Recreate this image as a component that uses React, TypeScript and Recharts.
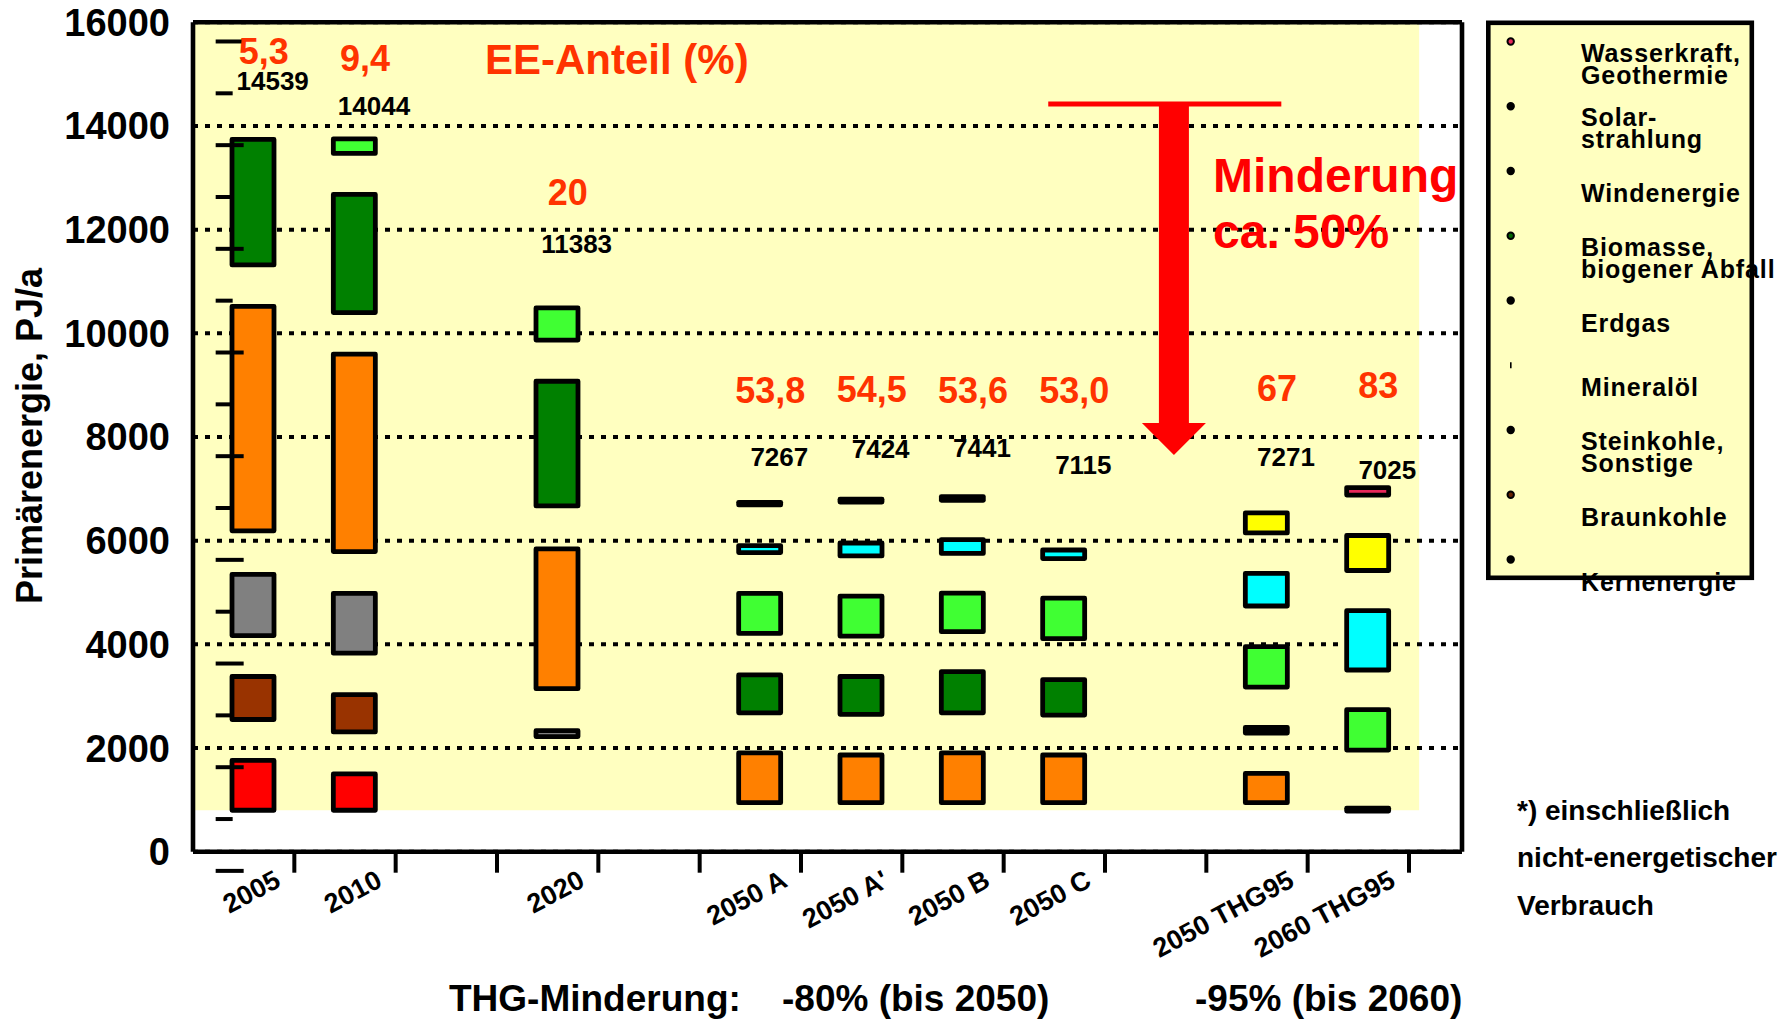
import React from 'react';
import {
  ComposedChart,
  Bar,
  Cell,
  XAxis,
  YAxis,
  CartesianGrid,
  ReferenceArea,
  ReferenceDot,
  ReferenceLine,
} from 'recharts';

type Range = [number, number] | null;

// Category slots of the x axis (empty strings are spacer slots)
const slotLabels = ['2005', '2010', '', '2020', '', '2050 A', "2050 A'", '2050 B', '2050 C', '', '2050 THG95', '2060 THG95'];

// Primary energy totals in PJ/a
const totals = [14539, 14044, null, 11383, null, 7267, 7424, 7441, 7115, null, 7271, 7025];

// Share of renewables (EE-Anteil, %) and the height where each value is written
const eeShares = ['5,3', '9,4', '', '20', '', '53,8', '54,5', '53,6', '53,0', '', '67', '83'];
const eeLabelLevels = [15450, 15320, null, 12730, null, 8910, 8930, 8910, 8910, null, 8950, 9000];

// Floating boxes per energy carrier: [lower, upper] in PJ/a
const kernenergie: Range[] = [[800, 1760], [800, 1500], null, null, null, null, null, null, null, null, null, null];
const braunkohle: Range[] = [[2550, 3380], [2310, 3030], null, null, null, null, null, null, null, null, null, null];
const steinkohle: Range[] = [[4170, 5350], [3830, 4985], null, [2220, 2335], null, null, null, null, null, null, null, null];
const mineraloel: Range[] = [[6190, 10520], [5790, 9600], null, [3145, 5840], null, [945, 1905], [945, 1865], [945, 1905], [945, 1865], null, [945, 1510], null];
const erdgas: Range[] = [[11320, 13740], [10400, 12680], null, [6670, 9075], null, [2680, 3410], [2650, 3380], [2680, 3475], [2635, 3320], null, null, null];
const biomasse: Range[] = [null, [13470, 13750], null, [9870, 10490], null, [4210, 4985], [4160, 4930], [4245, 4990], [4110, 4890], null, [3175, 3955], [1960, 2740]];
const windenergie: Range[] = [null, null, null, null, null, [5770, 5905], [5705, 5955], [5755, 6020], [5655, 5820], null, [4740, 5370], [3505, 4650]];
const solarstrahlung: Range[] = [null, null, null, null, null, null, null, null, null, null, [6150, 6535], [5425, 6100]];
const wasserkraft: Range[] = [null, null, null, null, null, null, null, null, null, null, null, [6880, 7025]];
const sonstigeDunkel: Range[] = [null, null, null, null, null, [6690, 6740], [6745, 6800], [6780, 6850], null, null, [2290, 2400], [785, 840]];

// Short marks beside the 2005 column (PJ/a)
const marks2005 = [-370, 630, 1630, 2630, 3630, 4630, 5630, 6630, 7630, 8630, 9630, 10630, 11630, 12630, 13630, 14630, 15630];

const yTicks = [0, 2000, 4000, 6000, 8000, 10000, 12000, 14000, 16000];
const slotTicks = [1, 2, 3, 4, 5, 6, 7, 8, 9, 10, 11, 12];

// Layout of the plot frame
const CHART_W = 1790;
const CHART_H = 1022;
const X_AXIS_H = 60;
const MARGIN = { top: 22.3, right: 328, bottom: 170.3 - X_AXIS_H, left: 93 };
const Y_AXIS_W = 100;
const PLOT_W = CHART_W - MARGIN.left - Y_AXIS_W - MARGIN.right;
const RIGHT_GAP = 53; // empty room between the last slot and the right frame
const SLOT_COUNT = slotLabels.length;
const SLOTS_MAX = (SLOT_COUNT * PLOT_W) / (PLOT_W - RIGHT_GAP);

// Highlighted background band and the reduction arrow (in axis units)
const highlightBand = { x1: 0, x2: 12.1, y1: 800, y2: 16000 };
const reductionArrow = { x: 9.68, from: 14424, to: 7654, barFrom: 8.44, barTo: 10.74 };

const carriers = [
  { key: 'wasser', color: '#E8285A', values: wasserkraft },
  { key: 'solar', color: '#FFFF00', values: solarstrahlung },
  { key: 'wind', color: '#00FFFF', values: windenergie },
  { key: 'bio', color: '#40FF33', values: biomasse },
  { key: 'gas', color: '#008000', values: erdgas },
  { key: 'oel', color: '#FF8000', values: mineraloel },
  { key: 'stein', color: '#808080', values: steinkohle },
  { key: 'braun', color: '#993300', values: braunkohle },
  { key: 'kern', color: '#FF0000', values: kernenergie },
  { key: 'dunkel', color: '#000000', values: sonstigeDunkel },
];

const legendEntries = [
  { lines: ['Wasserkraft,', 'Geothermie'], color: '#E8285A' },
  { lines: ['Solar-', 'strahlung'], color: '#000000' },
  { lines: ['Windenergie'], color: '#000000' },
  { lines: ['Biomasse,', 'biogener Abfall'], color: '#006600' },
  { lines: ['Erdgas'], color: '#000000' },
  { lines: ['Mineralöl'], color: null },
  { lines: ['Steinkohle,', 'Sonstige'], color: '#000000' },
  { lines: ['Braunkohle'], color: '#662200' },
  { lines: ['Kernenergie'], color: '#000000' },
];

const MAX_SEGMENTS = 6;
const FONT = "'Liberation Sans', Arial, Helvetica, sans-serif";
const EE_COLOR = '#FF3300';

// Build stacked rows: transparent gaps between the visible boxes
const rows = slotLabels.map((label, i) => {
  const segs = carriers
    .filter((c) => c.values[i])
    .map((c) => ({ color: c.color, lo: (c.values[i] as [number, number])[0], hi: (c.values[i] as [number, number])[1] }))
    .sort((a, b) => a.lo - b.lo);
  const row: Record<string, any> = { id: `s${i}`, pos: i, label, total: totals[i], colors: [] as string[] };
  let top = 0;
  segs.forEach((s, j) => {
    row[`g${j}`] = s.lo - top;
    row[`s${j}`] = s.hi - s.lo;
    row.colors[j] = s.color;
    top = s.hi;
  });
  return row;
});

const SlotTick = (props: any) => {
  const { x, y, payload } = props;
  const label = slotLabels[payload.value - 1];
  if (!label) return null;
  const ax = x - 12;
  return (
    <text x={ax} y={y} textAnchor="end" transform={`rotate(-28 ${ax} ${y})`} fontSize={27} fontWeight={700} fontFamily={FONT} fill="#000">
      {label}
    </text>
  );
};

const ArrowShape = (p: any) => {
  const { x1, y1, y2 } = p;
  const headLen = 32;
  const headHalf = 32;
  const shaftHalf = 15;
  const yb = y2 - headLen;
  const pts = [
    [x1 - shaftHalf, y1], [x1 + shaftHalf, y1], [x1 + shaftHalf, yb], [x1 + headHalf, yb],
    [x1, y2], [x1 - headHalf, yb], [x1 - shaftHalf, yb],
  ].map((q) => q.join(',')).join(' ');
  return <polygon points={pts} fill="#FF0000" />;
};

const axisLine = { stroke: '#000', strokeWidth: 4.6 };

export default function App() {
  return (
    <div style={{ position: 'absolute', left: 0, top: 0, width: CHART_W, height: CHART_H, background: '#fff', overflow: 'hidden' }}>
      <ComposedChart width={CHART_W} height={CHART_H} data={rows} margin={MARGIN} barGap={0}>
        <ReferenceArea
          xAxisId="slots"
          yAxisId="y"
          x1={highlightBand.x1}
          x2={highlightBand.x2}
          y1={highlightBand.y1}
          y2={highlightBand.y2}
          fill="#FFFFC0"
          fillOpacity={1}
          stroke="none"
          ifOverflow="visible"
          zIndex={-150}
        />
        <CartesianGrid
          xAxisId="slots"
          yAxisId="y"
          vertical={false}
          stroke="#000"
          strokeWidth={4}
          strokeDasharray="5 7"
        />

        {/* empty left column that sits beside the boxes */}
        <Bar xAxisId="cat" yAxisId="y" dataKey="leftColumn" stackId="l" barSize={18} fill="none" isAnimationActive={false} />

        {Array.from({ length: MAX_SEGMENTS }).flatMap((_, j) => [
          <Bar
            key={`g${j}`}
            xAxisId="cat"
            yAxisId="y"
            dataKey={`g${j}`}
            stackId="r"
            barSize={42}
            fill="none"
            stroke="none"
            isAnimationActive={false}
          />,
          <Bar
            key={`s${j}`}
            xAxisId="cat"
            yAxisId="y"
            dataKey={`s${j}`}
            stackId="r"
            barSize={42}
            stroke="#000"
            strokeWidth={4.8}
            strokeLinejoin="round"
            isAnimationActive={false}
          >
            {rows.map((r) => (
              <Cell key={r.id} fill={r.colors[j] || 'none'} />
            ))}
          </Bar>,
        ])}

        {marks2005.map((v, k) => (
          <ReferenceDot
            key={`m${k}`}
            xAxisId="cat"
            yAxisId="y"
            x="s0"
            y={v}
            r={0}
            ifOverflow="visible"
            shape={(p: any) => (
              <line x1={p.cx - 28} x2={p.cx + (k % 2 === 0 ? 0 : -11)} y1={p.cy} y2={p.cy} stroke="#000" strokeWidth={4} />
            )}
          />
        ))}

        {/* frame: top and right edges */}
        <ReferenceLine xAxisId="slots" yAxisId="y" y={16000} stroke="#000" strokeWidth={4.6} ifOverflow="visible" />
        <ReferenceLine xAxisId="slots" yAxisId="y" x={SLOTS_MAX} stroke="#000" strokeWidth={4.6} ifOverflow="visible" />

        <ReferenceLine
          xAxisId="slots"
          yAxisId="y"
          segment={[{ x: reductionArrow.barFrom, y: reductionArrow.from }, { x: reductionArrow.barTo, y: reductionArrow.from }]}
          stroke="#FF0000"
          strokeWidth={5}
        />
        <ReferenceLine
          xAxisId="slots"
          yAxisId="y"
          segment={[{ x: reductionArrow.x, y: reductionArrow.from }, { x: reductionArrow.x, y: reductionArrow.to }]}
          shape={ArrowShape}
        />

        {rows.map((r, i) =>
          totals[i] == null ? null : (
            <ReferenceDot
              key={`t${i}`}
              xAxisId="cat"
              yAxisId="y"
              x={r.id}
              y={totals[i] as number}
              r={0}
              ifOverflow="visible"
              shape={(p: any) => (
                <text x={p.cx + 29} y={p.cy - 8.5} textAnchor="middle" fontSize={26} fontWeight={700} fontFamily={FONT} fill="#000">
                  {totals[i]}
                </text>
              )}
            />
          )
        )}

        {rows.map((r, i) =>
          eeLabelLevels[i] == null ? null : (
            <ReferenceDot
              key={`ee${i}`}
              xAxisId="cat"
              yAxisId="y"
              x={r.id}
              y={eeLabelLevels[i] as number}
              r={0}
              ifOverflow="visible"
              shape={(p: any) => (
                <text x={p.cx + 20} y={p.cy + 13} textAnchor="middle" fontSize={36} fontWeight={700} fontFamily={FONT} fill={EE_COLOR}>
                  {eeShares[i]}
                </text>
              )}
            />
          )
        )}

        <XAxis xAxisId="cat" dataKey="id" type="category" hide height={0} padding={{ left: 0, right: RIGHT_GAP }} />
        <XAxis
          xAxisId="slots"
          dataKey="pos"
          type="number"
          domain={[0, SLOTS_MAX]}
          ticks={slotTicks}
          interval={0}
          allowDataOverflow
          height={X_AXIS_H}
          axisLine={axisLine}
          tickLine={{ stroke: '#000', strokeWidth: 4 }}
          tickSize={21}
          tickMargin={13}
          tick={SlotTick}
        />
        <YAxis
          yAxisId="y"
          type="number"
          domain={[0, 16000]}
          ticks={yTicks}
          interval={0}
          allowDataOverflow
          width={Y_AXIS_W}
          axisLine={axisLine}
          tickLine={false}
          tickSize={0}
          tickMargin={23}
          tick={{ fill: '#000', fontSize: 38, fontWeight: 700, fontFamily: FONT }}
        />
      </ComposedChart>

      <svg
        width={CHART_W}
        height={CHART_H}
        style={{ position: 'absolute', left: 0, top: 0, pointerEvents: 'none' }}
        fontFamily={FONT}
        fontWeight={700}
      >
        <text x={42} y={436} transform="rotate(-90 42 436)" textAnchor="middle" fontSize={36} fill="#000">
          Primärenergie, PJ/a
        </text>

        <text x={485} y={74} fontSize={42} fill={EE_COLOR}>EE-Anteil (%)</text>
        <text x={1213} y={192} fontSize={48} fill="#FF0000">Minderung</text>
        <text x={1213} y={248} fontSize={48} fill="#FF0000">ca. 50%</text>

        <text x={449} y={1011} fontSize={37} fill="#000">THG-Minderung:</text>
        <text x={782} y={1011} fontSize={37} fill="#000">-80% (bis 2050)</text>
        <text x={1195} y={1011} fontSize={37} fill="#000">-95% (bis 2060)</text>

        <text x={1517} y={820} fontSize={28} fill="#000">*) einschließlich</text>
        <text x={1517} y={867} fontSize={28} fill="#000">nicht-energetischer</text>
        <text x={1517} y={915} fontSize={28} fill="#000">Verbrauch</text>

        <g>
          <rect x={1488.3} y={22.8} width={263.5} height={555} fill="#FFFFC0" stroke="#000" strokeWidth={4.6} />
          {legendEntries.map((e, i) => {
            const dotY = 41.5 + i * 64.75;
            return (
              <g key={i}>
                {e.color ? (
                  <circle cx={1510.7} cy={dotY} r={3.2} fill={e.color} stroke="#000" strokeWidth={2} />
                ) : (
                  <rect x={1510} y={dotY - 3} width={1.6} height={6} fill="#000" />
                )}
                {e.lines.length === 1 ? (
                  <text x={1581} y={dotY + 31} fontSize={25} letterSpacing={0.9} fill="#000">{e.lines[0]}</text>
                ) : (
                  <>
                    <text x={1581} y={dotY + 20} fontSize={25} letterSpacing={0.9} fill="#000">{e.lines[0]}</text>
                    <text x={1581} y={dotY + 42} fontSize={25} letterSpacing={0.9} fill="#000">{e.lines[1]}</text>
                  </>
                )}
              </g>
            );
          })}
        </g>
      </svg>
    </div>
  );
}
